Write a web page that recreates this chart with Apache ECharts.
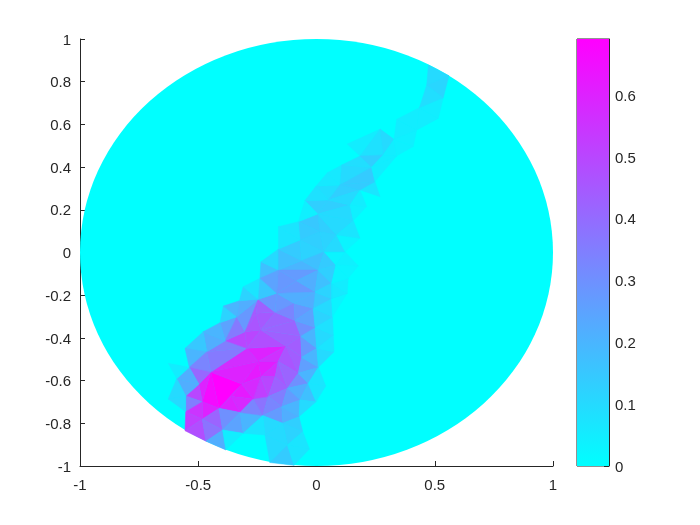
<!DOCTYPE html>
<html><head><meta charset="utf-8">
<style>html,body{margin:0;padding:0;background:#fff}#c{width:700px;height:525px}</style>
<script src="https://cdn.jsdelivr.net/npm/echarts@6/dist/echarts.min.js"></script>
</head><body><div id="c"></div>
<script>
const vertexNames = ("A B C D E F G H I J K L M N O P Q R S T V W X Y Z AA AB AD AE AG AH AI AJ AK AL AM AN AP AQ AR AS AT AU AV AW AX AY AZ BA BA2 BB BC BE BF BG BH BI BJ BK BL BM BO BP BQ BR BS BT BU BV BW BX BY " +
  "a b c d e f g h j k l m n o p q r s t u v w x y z aa ab ac ad ae af ag ah ai aj ak al am an ao ap aq ar as at au av aw").split(" ");
const vertexX = [-0.556,-0.467,-0.383,-0.197,-0.095,-0.553,-0.553,-0.483,-0.483,-0.412,-0.497,-0.591,-0.627,-0.538,-0.627,-0.447,-0.316,-0.464,-0.556,-0.479,-0.386,-0.408,-0.394,-0.337,-0.326,-0.246,-0.310,-0.295,-0.129,-0.256,-0.175,-0.091,-0.067,-0.006,0.001,-0.063,0.008,0.071,0.074,0.068,0.064,0.130,-0.006,-0.014,-0.095,-0.168,-0.235,-0.302,-0.246,-0.235,-0.162,-0.175,-0.077,-0.035,0.039,-0.002,-0.070,-0.147,-0.123,-0.227,-0.323,-0.267,-0.204,-0.143,-0.074,-0.058,-0.310,-0.397,-0.123,-0.030,-0.218,-0.359,
  0.473,0.560,0.536,0.466,0.435,0.515,0.339,0.424,0.328,0.269,0.409,0.339,0.184,0.130,0.233,0.282,0.107,0.247,0.099,0.184,0.269,0.046,-0.002,-0.049,0.050,0.212,0.142,0.005,-0.077,-0.161,0.085,0.015,0.156,0.184,-0.070,-0.161,0.121,0.032,-0.063,-0.235,0.082,0.177,0.064,0.134,-0.161,0.008,-0.084,-0.239];
const vertexY = [-0.835,-0.884,-0.925,-0.984,-0.997,-0.746,-0.672,-0.699,-0.781,-0.730,-0.617,-0.591,-0.519,-0.538,-0.686,-0.560,-0.616,-0.465,-0.449,-0.371,-0.413,-0.329,-0.251,-0.301,-0.226,-0.219,-0.160,-0.449,-0.438,-0.285,-0.280,-0.319,-0.391,-0.350,-0.449,-0.491,-0.538,-0.386,-0.465,-0.301,-0.215,-0.191,-0.184,-0.261,-0.238,-0.191,-0.363,-0.371,-0.511,-0.582,-0.511,-0.582,-0.566,-0.613,-0.625,-0.699,-0.691,-0.722,-0.636,-0.764,-0.749,-0.686,-0.675,-0.800,-0.769,-0.839,-0.847,-0.831,-0.902,-0.920,-0.855,-0.675,
  0.878,0.828,0.725,0.785,0.678,0.628,0.624,0.574,0.530,0.578,0.496,0.452,0.452,0.508,0.399,0.457,0.410,0.332,0.316,0.293,0.261,0.374,0.311,0.243,0.246,0.215,0.222,0.180,0.144,0.121,0.082,0.097,0.149,0.067,0.059,0.016,0.004,0.004,-0.038,-0.043,-0.059,-0.063,-0.144,-0.121,-0.082,-0.082,-0.132,-0.121];

const triangleCorners = [
 "P Q J","P J H","K P H","H J I","G K H","G H F","F H I","F I A","A I B","I J BU","I BU B","B BU C",
 "J Q BY","BY Q BO","BY BO BM","J BY BM","J BM BU","BU BM BT","BM BL BT","BM BO BL","BO BP BL",
 "P AD BA","P BA Q","Q BA BA2","AD AE BA","AE BB BA","BA BB BA2","BB BC BA2","BA2 BP BO","Q BA2 BO","BA2 BC BP",
 "BC BK BP","BB BK BC","AE AM BE","AE BE BB","BB BE BK","BK BE BF","BE AM AN","BE AN BF","BF AN BG",
 "BP BK BJ","BK BF BI","BK BI BJ","BF BH BI","BF BG BH","BJ BI BR","BI BH BR","BP BJ BL","BL BJ BQ","BJ BR BQ",
 "BQ BR BS","BL BQ BX","BQ BS BV","BQ BV BX","BX BV D","BV BS BW","BV E D","BV BW E","BL BX BT","BU BT C",
 "R V AD","R AD P","V AZ AD","AZ AY AD","AY AE AD","AY AJ AE","AE AJ AM","AJ AL AM","AM AL AN","AL AQ AN","AL AP AQ",
 "AJ AK AL","AK AP AL","AK AR AP","W Y V","Y AZ V","Y AA AZ","AA AG AZ","AG AY AZ","AG AH AY","AH AI AY","AI AJ AY",
 "AI AK AJ","AA AH AG","AA AX AH","AX AW AH","AW AI AH","AW AV AI","AV AK AI","AV AR AK","AV AS AR","AU AS AV","AW AU AV",
 "AX AU AW","AS AT AR","AU AT AS","T V R","T W V","S T R","S R N","R P N","N P K","N K L","L K G","L G O","O G F","M L N",
 "X Y W","Z Y X","Z AA Y","AB AA Z","AB aw AA","aw AX AA",
 "ao at aw","ao ak at","aw at AX","at av AX","at an au","at au av","AX av AU","av au AU","au ar AU","ar AS AU","ar AT AS","ar as AT",
 "ak an at","ak aj an","aj am an","am au an","am ap au","ap ar au","ap as ar","ap aq as","am al ap","al aq ap",
 "aj ag am","ag af am","af al am","af ai al","ag ac af","ac ah af","ac z ab","ab ah ac","ah ai af","ab aa ah",
 "ad ac ag","ad ag aj","ae ad aj","ae aj ak","y z ac","y ac ad","x y z","x t z","w r t","w t x","t u z","u ab z","u aa ab","u s v",
 "t s u","r p t","t p s","r n p","o k n","n k q","k j q","n q p","q j m","q m p","p m s","j l m","j h l","g h j","g e h","e f h","e c f","d c e","a b d","b c d"
];
const triangleValues = [
 0.69,0.66,0.60,0.60,0.50,0.35,0.55,0.52,0.48,0.42,0.38,0.22,
 0.60,0.62,0.58,0.60,0.30,0.25,0.20,0.33,0.38,
 0.57,0.60,0.62,0.60,0.56,0.61,0.57,0.52,0.58,0.50,
 0.43,0.45,0.44,0.46,0.42,0.30,0.26,0.20,0.07,
 0.35,0.22,0.27,0.17,0.07,0.20,0.10,0.33,0.27,0.22,
 0.13,0.10,0.12,0.10,0.10,0.07,0.14,0.07,0.07,0.05,
 0.35,0.36,0.50,0.50,0.48,0.43,0.44,0.28,0.20,0.10,0.07,
 0.20,0.10,0.08,0.25,0.36,0.28,0.45,0.46,0.45,0.42,0.42,
 0.30,0.43,0.28,0.28,0.33,0.28,0.25,0.12,0.10,0.15,0.22,
 0.22,0.03,0.07,0.22,0.20,0.15,0.20,0.33,0.41,0.22,0.22,0.10,0.10,0.05,
 0.12,0.20,0.22,0.12,0.07,0.15,
 0.17,0.10,0.25,0.28,0.20,0.27,0.28,0.22,0.17,0.12,0.06,0.05,
 0.17,0.14,0.12,0.17,0.14,0.13,0.03,0.03,0.03,0.04,
 0.13,0.12,0.10,0.03,0.13,0.10,0.13,0.10,0.07,0.04,
 0.15,0.14,0.07,0.07,0.13,0.04,0.08,0.09,0.06,0.06,0.13,0.10,0.05,0.07,
 0.14,0.10,0.14,0.09,0.05,0.08,0.10,0.13,0.05,0.05,0.05,0.04,0.04,0.05,0.05,0.05,0.05,0.09,0.10,0.11
];
const diskRadius = 1;
const colorMin = 0, colorMax = 0.691;
const axisTicks = { xy: 0.5, yy: 0.2, bar: 0.1 };

const ink = '#262626';
function cool(v){
  const t = Math.max(0, Math.min(1, (v - colorMin) / (colorMax - colorMin)));
  return 'rgb(' + Math.round(255*t) + ',' + Math.round(255*(1-t)) + ',255)';
}
const vIndex = {};
vertexNames.forEach((n,i)=>{ vIndex[n]=i; });
const triData = triangleCorners.map((s,i)=>{
  const r=[];
  s.split(' ').forEach(n=>{ r.push(vertexX[vIndex[n]], vertexY[vIndex[n]]); });
  r.push(triangleValues[i]);
  return r;
});
const label = { color: ink, fontFamily: 'Liberation Sans', fontSize: 15 };
const lowered = { verticalAlign:'top', lineHeight:3 };
const tick = { show:true, inside:true, length:5, lineStyle:{color:ink,width:1} };
const line = { show:true, onZero:false, lineStyle:{color:ink,width:1} };
const fmt = v=>String(+v.toFixed(1));
const chart = echarts.init(document.getElementById('c'), null, {renderer:'canvas'});
chart.setOption({
  animation:false,
  backgroundColor:'#fff',
  grid:[
    {left:80,right:147,top:39,bottom:59},
    {left:577,width:32,top:39,height:427,show:true,borderColor:ink,borderWidth:1,backgroundColor:'transparent'}
  ],
  xAxis:[
    {type:'value',gridIndex:0,min:-1,max:1,interval:axisTicks.xy,axisLine:line,axisTick:tick,splitLine:{show:false},
     axisLabel:{...label,margin:12,showMinLabel:true,showMaxLabel:true,formatter:fmt}},
    {type:'value',gridIndex:1,min:0,max:1,show:false}
  ],
  yAxis:[
    {type:'value',gridIndex:0,min:-1,max:1,interval:axisTicks.yy,axisLine:line,axisTick:tick,splitLine:{show:false},
     axisLabel:{...label,...lowered,margin:9,showMinLabel:true,showMaxLabel:true,formatter:fmt}},
    {type:'value',gridIndex:1,position:'right',min:colorMin,max:colorMax,interval:axisTicks.bar,axisLine:line,axisTick:tick,splitLine:{show:false},
     axisLabel:{...label,...lowered,margin:6,showMinLabel:true,showMaxLabel:false,formatter:fmt}}
  ],
  series:[
    {type:'custom',xAxisIndex:0,yAxisIndex:0,silent:true,z:1,data:[[0,0,diskRadius,0]],
     renderItem(p,api){
       const c=api.coord([api.value(0),api.value(1)]);
       const s=api.size([api.value(2),api.value(2)]);
       return {type:'circle',x:c[0],y:c[1],scaleX:s[0],scaleY:s[1],shape:{cx:0,cy:0,r:1},style:{fill:cool(api.value(3)),stroke:null}};
     }},
    {type:'custom',xAxisIndex:0,yAxisIndex:0,silent:true,z:2,data:triData,
     renderItem(p,api){
       const pts=[0,2,4].map(i=>api.coord([api.value(i),api.value(i+1)]));
       const col=cool(api.value(6));
       return {type:'polygon',shape:{points:pts},style:{fill:col,stroke:col,lineWidth:0.5}};
     }},
    {type:'custom',xAxisIndex:1,yAxisIndex:1,silent:true,z:1,data:[[0,colorMin,1,colorMax]],
     renderItem(p,api){
       const a=api.coord([api.value(0),api.value(3)]);
       const b=api.coord([api.value(2),api.value(1)]);
       return {type:'rect',shape:{x:a[0],y:a[1],width:b[0]-a[0],height:b[1]-a[1]},
         style:{fill:new echarts.graphic.LinearGradient(0,0,0,1,[{offset:0,color:cool(colorMax)},{offset:1,color:cool(colorMin)}])}};
     }}
  ]
});
</script></body></html>
